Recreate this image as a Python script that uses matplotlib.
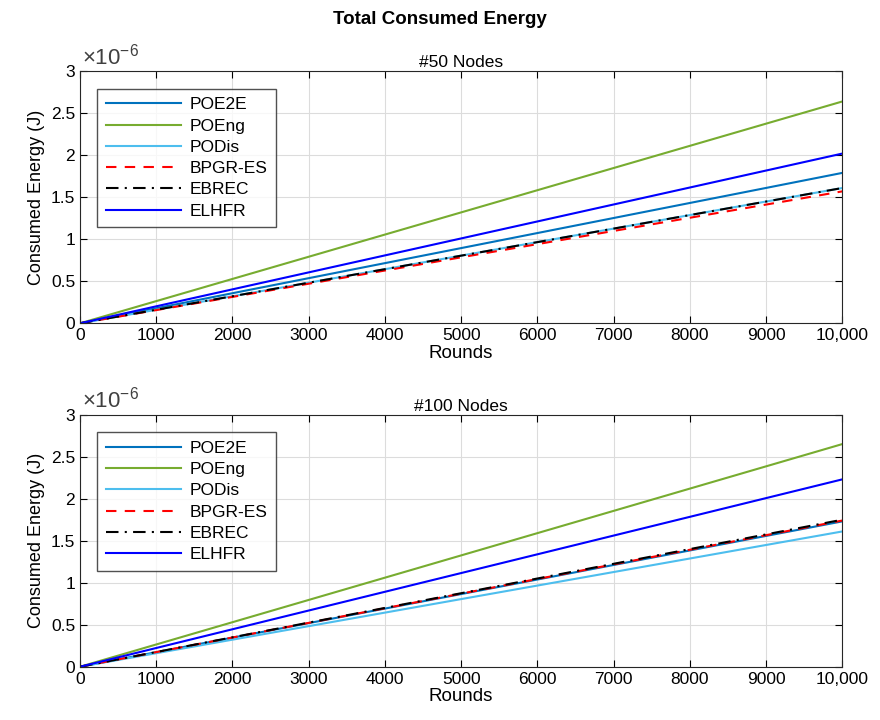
import numpy as np
import matplotlib.pyplot as plt
from matplotlib.ticker import FuncFormatter

plt.rcParams['font.family'] = ['Liberation Sans', 'DejaVu Sans']
plt.rcParams['mathtext.fontset'] = 'custom'
plt.rcParams['mathtext.rm'] = 'Liberation Sans'

rounds = [0, 10000]
names = ["POE2E", "POEng", "PODis", "BPGR-ES", "EBREC", "ELHFR"]
colors = ["#0072BD", "#77AC30", "#4DBEEE", "#FF0000", "#000000", "#0000FF"]
styles = ["-", "-", "-", (0, (5, 4)), (0, (6, 3, 1, 3)), "-"]

# consumed energy (J) at round 0 and round 10,000
energy_50 = {
    "POE2E": [0, 1.79e-6],
    "POEng": [0, 2.64e-6],
    "PODis": [0, 1.61e-6],
    "BPGR-ES": [0, 1.57e-6],
    "EBREC": [0, 1.61e-6],
    "ELHFR": [0, 2.02e-6],
}
energy_100 = {
    "POE2E": [0, 1.73e-6],
    "POEng": [0, 2.65e-6],
    "PODis": [0, 1.61e-6],
    "BPGR-ES": [0, 1.74e-6],
    "EBREC": [0, 1.75e-6],
    "ELHFR": [0, 2.23e-6],
}

xticks = list(range(0, 10001, 1000))
xticklabels = [str(t) for t in xticks[:-1]] + ["10,000"]

fig = plt.figure(figsize=(8.8, 7.2), dpi=100)
fig.suptitle("Total Consumed Energy", fontsize=13.5, fontweight="bold", y=0.985)

panels = [("#50 Nodes", energy_50, [0.091, 0.551, 0.866, 0.35]),
          ("#100 Nodes", energy_100, [0.091, 0.074, 0.866, 0.35])]

for title, data, pos in panels:
    ax = fig.add_axes(pos)
    for name, c, ls in zip(names, colors, styles):
        ax.plot(rounds, data[name], color=c, linestyle=ls, linewidth=1.5, label=name)
    ax.set_xlim(0, 10000)
    ax.set_ylim(0, 3e-6)
    ax.set_xticks(xticks)
    ax.set_xticklabels(xticklabels)
    ax.set_yticks(np.arange(0, 3.01e-6, 0.5e-6))
    ax.yaxis.set_major_formatter(FuncFormatter(lambda v, p: "%g" % round(v * 1e6, 2)))
    ax.text(0.003, 1.008, r"$\times10^{-6}$", transform=ax.transAxes, fontsize=16,
            color="#404040", va="bottom", ha="left")
    ax.tick_params(direction="in", top=True, right=True, labelsize=12.5, length=5)
    ax.grid(True, color="#dcdcdc", linewidth=0.8)
    ax.set_axisbelow(True)
    for s in ax.spines.values():
        s.set_color("#262626")
    ax.set_title(title, fontsize=12.5, pad=3)
    ax.set_xlabel("Rounds", fontsize=13.5, labelpad=1)
    ax.set_ylabel("Consumed Energy (J)", fontsize=13)
    leg = ax.legend(loc="upper left", fontsize=12.5, handlelength=4.3, fancybox=False,
                    edgecolor="#262626", borderaxespad=1.0, labelspacing=0.35,
                    handletextpad=0.5, borderpad=0.5)
    leg.get_frame().set_linewidth(1.0)

fig.savefig("out.png", dpi=100)
